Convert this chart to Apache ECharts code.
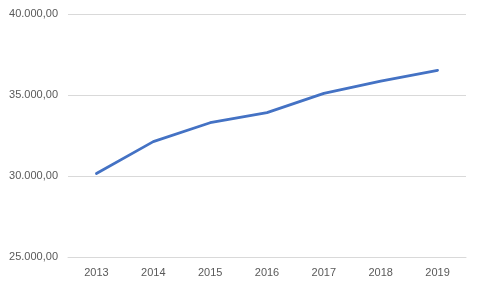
<!DOCTYPE html>
<html><head><meta charset="utf-8">
<script src="https://cdn.jsdelivr.net/npm/echarts@6/dist/echarts.min.js"></script>
<style>html,body{margin:0;padding:0;background:#fff}#c{width:480px;height:288px}</style>
</head><body><div id="c"></div>
<script>
var categories = ['2013','2014','2015','2016','2017','2018','2019'];
var values = [30150, 32120, 33290, 33910, 35100, 35860, 36520];
var yMin = 25000, yMax = 40000, yStep = 5000;

function fmt(v){
  var s = Math.round(v).toString().replace(/\B(?=(\d{3})+(?!\d))/g, '.');
  return s + ',00';
}
var chart = echarts.init(document.getElementById('c'), null, {renderer:'canvas'});
chart.setOption({
  animation:false,
  backgroundColor:'#ffffff',
  grid:{left:68,right:14,top:14,bottom:31},
  xAxis:{type:'category',data:categories,boundaryGap:true,
    axisLine:{show:true,lineStyle:{color:'#d9d9d9',width:1}},
    axisTick:{show:false},
    axisLabel:{color:'#595959',fontFamily:'Liberation Sans, Arial, sans-serif',fontSize:11,margin:10}},
  yAxis:{type:'value',min:yMin,max:yMax,interval:yStep,
    axisLine:{show:false},axisTick:{show:false},
    splitLine:{lineStyle:{color:'#d9d9d9',width:1}},
    axisLabel:{color:'#595959',fontFamily:'Liberation Sans, Arial, sans-serif',fontSize:11,margin:10,formatter:fmt}},
  series:[{type:'line',data:values,showSymbol:false,symbol:'none',
    lineStyle:{color:'#4472C4',width:2.75,cap:'round',join:'round'}}]
});
</script></body></html>
